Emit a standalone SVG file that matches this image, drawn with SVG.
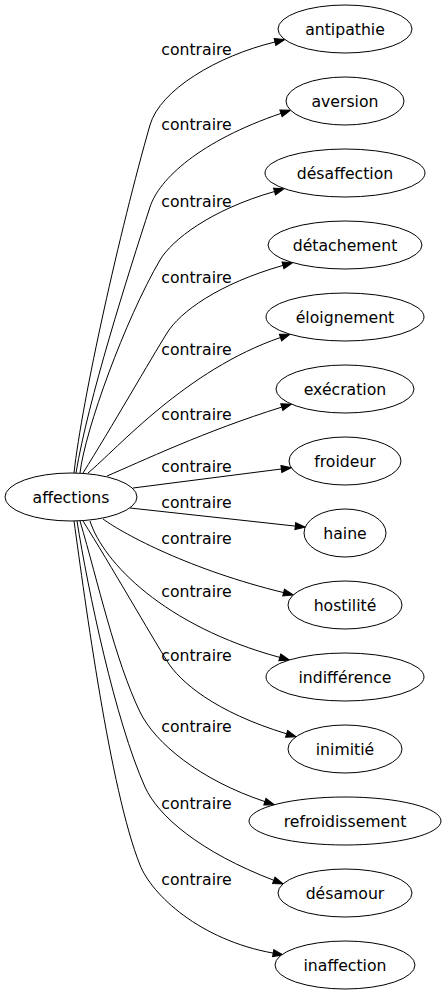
<svg xmlns="http://www.w3.org/2000/svg" width="446" height="995" viewBox="0 0 446 995">
<style>
.node ellipse{fill:#fff;stroke:#000;stroke-width:1}
.node text,.lbl{font-family:"DejaVu Sans",sans-serif;font-size:15.7px;fill:#000;text-anchor:middle}
.edges path{fill:none;stroke:#000;stroke-width:1;marker-end:url(#ah)}
</style>
<defs>
<marker id="ah" markerWidth="10" markerHeight="7" refX="0" refY="3.5" orient="auto" markerUnits="userSpaceOnUse" overflow="visible">
<path d="M0,0 L10,3.5 L0,7 Z" fill="#000" stroke="#000" stroke-width="1"/>
</marker>
</defs>
<rect width="446" height="995" fill="#fff"/>
<g id="connectors" class="edges">
<path d="M74,473 C82,400 120,230 150,125 C160,90 217,56 275,42"/>
<path d="M76,473 C88,400 128,275 150,207 C159,179 200,141 281,113.4"/>
<path d="M80,473 C85,430 125,320 160,260 C172,240 210,210 274.5,191.5"/>
<path d="M83,473 C110,430 152,357 167,333 C180,312 218,284 283,265.4"/>
<path d="M88,473 C118,448 186,370 280.5,337.5"/>
<path d="M107,476 C140,462 205,431 281.8,407.1"/>
<path d="M133,488 L281.4,469"/>
<path d="M130,508 L295.3,526.1"/>
<path d="M103,519 C125,535 191,570 283.6,592.6"/>
<path d="M90,521 C103,562 164,626 279.8,657.4"/>
<path d="M83,521 C110,564 152,637 167,661 C180,682 215,712 286.6,733.8"/>
<path d="M80,521 C98,582 115,660 140,712 C155,743 200,780 264.9,801.6"/>
<path d="M77,521 C88,590 115,720 145,787 C158,816 200,852 273.8,880.3"/>
<path d="M74,521 C85,600 110,790 140,865 C152,895 200,940 273.2,953.1"/>
</g>
<g id="edge-labels">
<text class="lbl" x="196.5" y="55">contraire</text>
<text class="lbl" x="196.5" y="130">contraire</text>
<text class="lbl" x="196.5" y="207">contraire</text>
<text class="lbl" x="196.5" y="283">contraire</text>
<text class="lbl" x="196.5" y="355">contraire</text>
<text class="lbl" x="196.5" y="420">contraire</text>
<text class="lbl" x="196.5" y="472">contraire</text>
<text class="lbl" x="196.5" y="508">contraire</text>
<text class="lbl" x="196.5" y="544">contraire</text>
<text class="lbl" x="196.5" y="597">contraire</text>
<text class="lbl" x="196.5" y="661">contraire</text>
<text class="lbl" x="196.5" y="732">contraire</text>
<text class="lbl" x="196.5" y="809">contraire</text>
<text class="lbl" x="196.5" y="885">contraire</text>
</g>
<g id="n-affections" class="node"><ellipse cx="71" cy="497" rx="66" ry="24"/><text x="71" y="502.5">affections</text></g>
<g id="n-antipathie" class="node"><ellipse cx="345" cy="29" rx="67" ry="24"/><text x="345" y="34.5">antipathie</text></g>
<g id="n-aversion" class="node"><ellipse cx="345" cy="101" rx="59" ry="24"/><text x="345" y="106.5">aversion</text></g>
<g id="n-desaffection" class="node"><ellipse cx="345" cy="173" rx="80" ry="24"/><text x="345" y="178.5">désaffection</text></g>
<g id="n-detachement" class="node"><ellipse cx="345" cy="245" rx="77" ry="24"/><text x="345" y="250.5">détachement</text></g>
<g id="n-eloignement" class="node"><ellipse cx="345" cy="317" rx="79" ry="24"/><text x="345" y="322.5">éloignement</text></g>
<g id="n-execration" class="node"><ellipse cx="345" cy="389" rx="69" ry="24"/><text x="345" y="394.5">exécration</text></g>
<g id="n-froideur" class="node"><ellipse cx="345" cy="461" rx="56" ry="24"/><text x="345" y="466.5">froideur</text></g>
<g id="n-haine" class="node"><ellipse cx="345" cy="533" rx="41" ry="24"/><text x="345" y="538.5">haine</text></g>
<g id="n-hostilite" class="node"><ellipse cx="345" cy="605" rx="57" ry="24"/><text x="345" y="610.5">hostilité</text></g>
<g id="n-indifference" class="node"><ellipse cx="345" cy="677" rx="79" ry="24"/><text x="345" y="682.5">indifférence</text></g>
<g id="n-inimitie" class="node"><ellipse cx="345" cy="749" rx="57" ry="24"/><text x="345" y="754.5">inimitié</text></g>
<g id="n-refroidissement" class="node"><ellipse cx="345" cy="821" rx="96" ry="24"/><text x="345" y="826.5">refroidissement</text></g>
<g id="n-desamour" class="node"><ellipse cx="345" cy="893" rx="67" ry="24"/><text x="345" y="898.5">désamour</text></g>
<g id="n-inaffection" class="node"><ellipse cx="345" cy="965" rx="70" ry="24"/><text x="345" y="970.5">inaffection</text></g>
</svg>
